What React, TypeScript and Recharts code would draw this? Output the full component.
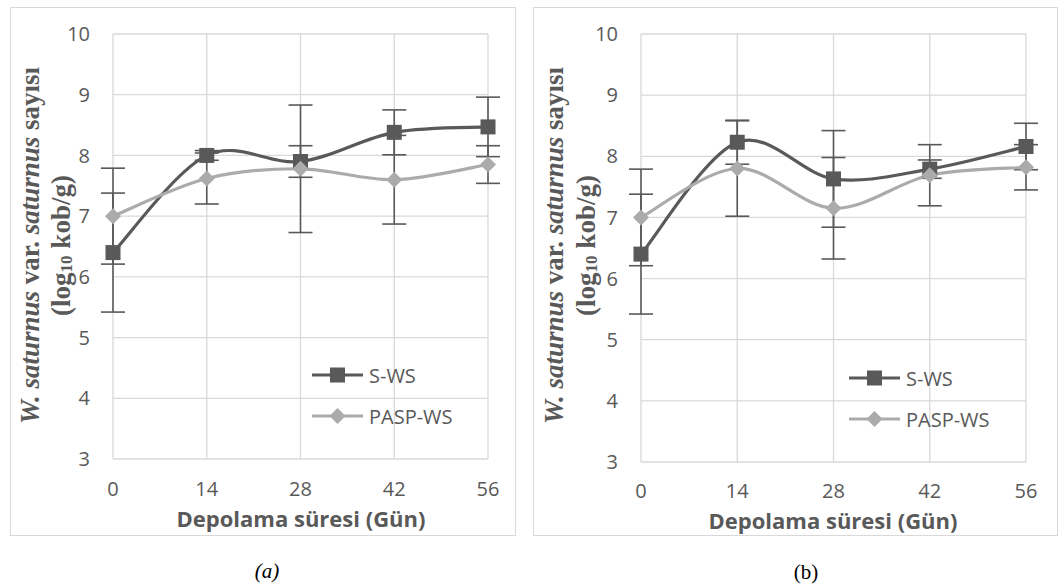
import React from 'react'
import { LineChart, Line, XAxis, YAxis, CartesianGrid, ErrorBar, Legend } from 'recharts'

const DAYS = [0, 14, 28, 42, 56]
const Y_TICKS = [3, 4, 5, 6, 7, 8, 9, 10]
const SERIES_NAMES = ['S-WS', 'PASP-WS']

// panel (a)
const SWS_A = [6.4, 8.0, 7.9, 8.38, 8.47]
const SWS_A_ERR = [0.98, 0.08, 0.26, 0.37, 0.49]
const PASP_A = [7.0, 7.62, 7.78, 7.6, 7.85]
const PASP_A_ERR = [0.79, 0.42, 1.05, 0.73, 0.31]

// panel (b)
const SWS_B = [6.4, 8.23, 7.63, 7.79, 8.16]
const SWS_B_ERR = [0.98, 0.36, 0.79, 0.15, 0.38]
const PASP_B = [7.0, 7.8, 7.15, 7.69, 7.82]
const PASP_B_ERR = [0.79, 0.78, 0.83, 0.5, 0.37]

const X_TITLE = 'Depolama süresi (Gün)'

const DARK = '#595959'
const LIGHT = '#ABABAB'
const GRID = '#D9D9D9'
const SANS = "'Open Sans', 'Noto Sans', sans-serif"
const SERIF = "'Liberation Serif', 'Times New Roman', serif"

function buildRows(sws: number[], swsErr: number[], pasp: number[], paspErr: number[]) {
  return DAYS.map((day, i) => ({
    day,
    sws: sws[i],
    swsErr: swsErr[i],
    pasp: pasp[i],
    paspErr: paspErr[i],
  }))
}

// Excel-style smoothed line (uniform Catmull-Rom -> cubic beziers)
// eslint-disable-next-line @typescript-eslint/no-explicit-any
function excelSmooth(context: any) {
  let pts: [number, number][] = []
  return {
    areaStart() {},
    areaEnd() {},
    lineStart() {
      pts = []
    },
    point(x: number, y: number) {
      pts.push([+x, +y])
    },
    lineEnd() {
      if (!pts.length) return
      context.moveTo(pts[0][0], pts[0][1])
      for (let i = 0; i < pts.length - 1; i++) {
        const p0 = pts[i - 1] || pts[i]
        const p1 = pts[i]
        const p2 = pts[i + 1]
        const p3 = pts[i + 2] || p2
        context.bezierCurveTo(
          p1[0] + (p2[0] - p0[0]) / 6,
          p1[1] + (p2[1] - p0[1]) / 6,
          p2[0] - (p3[0] - p1[0]) / 6,
          p2[1] - (p3[1] - p1[1]) / 6,
          p2[0],
          p2[1]
        )
      }
    },
  }
}

// eslint-disable-next-line @typescript-eslint/no-explicit-any
function squareDot(props: any) {
  const { cx, cy, index } = props
  if (cx == null || cy == null) return <g key={`sq-${index}`} />
  return <rect key={`sq-${index}`} x={cx - 7.5} y={cy - 7.5} width={15} height={15} fill={DARK} />
}

// eslint-disable-next-line @typescript-eslint/no-explicit-any
function diamondDot(props: any) {
  const { cx, cy, index } = props
  if (cx == null || cy == null) return <g key={`dm-${index}`} />
  const r = 8
  return (
    <polygon
      key={`dm-${index}`}
      points={`${cx},${cy - r} ${cx + r},${cy} ${cx},${cy + r} ${cx - r},${cy}`}
      fill={LIGHT}
    />
  )
}

function legendIcon(index: number) {
  const color = index === 0 ? DARK : LIGHT
  return (
    <svg width={51} height={20} style={{ display: 'block' }}>
      <line x1={0} y1={10} x2={51} y2={10} stroke={color} strokeWidth={3} />
      {index === 0 ? (
        <rect x={18} y={2.5} width={15} height={15} fill={color} />
      ) : (
        <polygon points="25.5,2 33.5,10 25.5,18 17.5,10" fill={color} />
      )}
    </svg>
  )
}

function renderLegend() {
  return (
    <div style={{ fontFamily: SANS, fontSize: 20, color: DARK }}>
      {SERIES_NAMES.map((name, i) => (
        <div key={name} style={{ display: 'flex', alignItems: 'center', height: 41 }}>
          {legendIcon(i)}
          <span style={{ marginLeft: 6, whiteSpace: 'nowrap' }}>{name}</span>
        </div>
      ))}
    </div>
  )
}

function yTitle(x1: number, x2: number, cy: number) {
  return function YTitle() {
    return (
      <g fill={DARK} fontFamily={SERIF} fontWeight="bold" fontSize={27}>
        <text
          x={x1}
          y={cy}
          transform={`rotate(-90 ${x1} ${cy})`}
          textAnchor="middle"
          dominantBaseline="central"
        >
          <tspan fontStyle="italic">W. saturnus</tspan> var. <tspan fontStyle="italic">saturnus</tspan> sayısı
        </text>
        <text
          x={x2}
          y={cy}
          transform={`rotate(-90 ${x2} ${cy})`}
          textAnchor="middle"
          dominantBaseline="central"
        >
          (log<tspan fontSize={17} dy={5}>10</tspan>
          <tspan dy={-5}> kob/g)</tspan>
        </text>
      </g>
    )
  }
}

function xTitle(cx: number, cy: number) {
  return function XTitle() {
    return (
      <text
        x={cx}
        y={cy}
        textAnchor="middle"
        dominantBaseline="central"
        fill={DARK}
        fontFamily={SANS}
        fontWeight="bold"
        fontSize={22}
      >
        {X_TITLE}
      </text>
    )
  }
}

interface PanelProps {
  left: number
  top: number
  width: number
  height: number
  margin: { top: number; right: number; bottom: number; left: number }
  rows: ReturnType<typeof buildRows>
  tickGap: number
  yTitleX: [number, number]
  yTitleY: number
  xTitlePos: [number, number]
  legendPos: { left: number; top: number }
}

const Y_AXIS_W = 60
const X_AXIS_H = 30

function Panel({
  left,
  top,
  width,
  height,
  margin,
  rows,
  tickGap,
  yTitleX,
  yTitleY,
  xTitlePos,
  legendPos,
}: PanelProps) {
  return (
    <div style={{ position: 'absolute', left, top, width, height }}>
      <LineChart width={width} height={height} data={rows} margin={margin}>
        <CartesianGrid stroke={GRID} strokeWidth={1.3} />
        <XAxis
          dataKey="day"
          type="number"
          domain={[0, 56]}
          ticks={DAYS}
          height={X_AXIS_H}
          axisLine={false}
          tickLine={false}
          tickSize={0}
          tickMargin={tickGap}
          tick={{ fill: DARK, fontFamily: SANS, fontSize: 20 }}
          label={{ content: xTitle(xTitlePos[0], xTitlePos[1]) }}
        />
        <YAxis
          type="number"
          domain={[3, 10]}
          ticks={Y_TICKS}
          width={Y_AXIS_W}
          axisLine={false}
          tickLine={false}
          tickSize={0}
          tickMargin={23}
          tick={{ fill: DARK, fontFamily: SANS, fontSize: 20 }}
          label={{ content: yTitle(yTitleX[0], yTitleX[1], yTitleY) }}
        />
        <Legend
          layout="vertical"
          align="center"
          verticalAlign="middle"
          content={renderLegend}
          wrapperStyle={{ left: legendPos.left, top: legendPos.top, width: 'auto', height: 'auto' }}
        />
        <Line
          name={SERIES_NAMES[0]}
          dataKey="sws"
          type={excelSmooth}
          stroke={DARK}
          strokeWidth={3.2}
          dot={squareDot}
          activeDot={false}
          isAnimationActive={false}
        >
          <ErrorBar dataKey="swsErr" direction="y" width={12} stroke={DARK} strokeWidth={1.6} />
        </Line>
        <Line
          name={SERIES_NAMES[1]}
          dataKey="pasp"
          type={excelSmooth}
          stroke={LIGHT}
          strokeWidth={3.2}
          dot={diamondDot}
          activeDot={false}
          isAnimationActive={false}
        >
          <ErrorBar dataKey="paspErr" direction="y" width={12} stroke={DARK} strokeWidth={1.6} />
        </Line>
      </LineChart>
      <div
        style={{
          position: 'absolute',
          inset: 0,
          border: `1.5px solid ${GRID}`,
          boxSizing: 'border-box',
          pointerEvents: 'none',
        }}
      />
    </div>
  )
}

const ROWS_A = buildRows(SWS_A, SWS_A_ERR, PASP_A, PASP_A_ERR)
const ROWS_B = buildRows(SWS_B, SWS_B_ERR, PASP_B, PASP_B_ERR)

export default function App() {
  return (
    <div
      style={{
        position: 'absolute',
        left: 0,
        top: 0,
        width: 1060,
        height: 585,
        background: '#fff',
        overflow: 'hidden',
      }}
    >
      <Panel
        left={10}
        top={7}
        width={506}
        height={529}
        margin={{ top: 27, right: 28, bottom: 77 - X_AXIS_H, left: 103 - Y_AXIS_W }}
        rows={ROWS_A}
        tickGap={23}
        yTitleX={[20, 51]}
        yTitleY={238.5}
        xTitlePos={[291, 511]}
        legendPos={{ left: 302, top: 347.5 }}
      />
      <Panel
        left={533}
        top={7}
        width={525}
        height={529}
        margin={{ top: 27, right: 32, bottom: 74 - X_AXIS_H, left: 108 - Y_AXIS_W }}
        rows={ROWS_B}
        tickGap={22}
        yTitleX={[21, 53]}
        yTitleY={238.5}
        xTitlePos={[300, 513]}
        legendPos={{ left: 316, top: 350.5 }}
      />
      <div
        style={{
          position: 'absolute',
          left: 217,
          width: 100,
          top: 559,
          textAlign: 'center',
          fontFamily: SERIF,
          fontStyle: 'italic',
          fontSize: 21,
          color: '#000',
        }}
      >
        (a)
      </div>
      <div
        style={{
          position: 'absolute',
          left: 756,
          width: 100,
          top: 560,
          textAlign: 'center',
          fontFamily: SERIF,
          fontSize: 21,
          color: '#000',
        }}
      >
        (b)
      </div>
    </div>
  )
}
